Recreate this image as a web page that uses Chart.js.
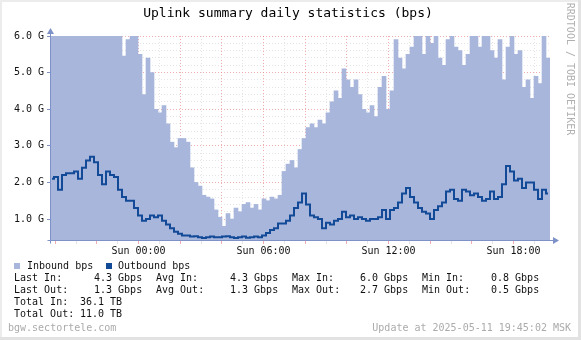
<!DOCTYPE html>
<html>
<head>
<meta charset="utf-8">
<script src="https://cdn.jsdelivr.net/npm/chart.js@4/dist/chart.umd.min.js"></script>
<style>
    html, body { margin: 0; padding: 0; background: #fff; }
    #wrap { width: 581px; height: 340px; }
</style>
</head>
<body>
<div id="wrap"><canvas id="chart" width="581" height="340"></canvas></div>
<script>
// ================== Data ==================
// one sample every 0.192 h, starting Sat 19:45 (hours relative to Sun 00:00)
const startHour = -4.25;
const endHour = 19.75;

// Inbound bps, in G
const inbound = [
    6.0, 6.0, 6.0, 6.0, 6.0, 6.0, 6.0, 6.0, 6.0, 6.0,
    6.0, 6.0, 6.0, 6.0, 6.0, 6.0, 6.0, 6.0, 5.45, 5.9,
    6.0, 6.0, 5.5, 4.4, 5.4, 5.0, 4.0, 3.9, 4.1, 3.6,
    3.1, 2.95, 3.2, 3.2, 3.1, 2.4, 2.0, 1.9, 1.65, 1.6,
    1.55, 1.25, 1.05, 0.8, 1.15, 1.0, 1.3, 1.2, 1.4, 1.45,
    1.3, 1.4, 1.25, 1.55, 1.5, 1.6, 1.55, 1.65, 2.3, 2.5,
    2.6, 2.4, 2.9, 3.2, 3.5, 3.6, 3.5, 3.7, 3.6, 3.9,
    4.2, 4.5, 4.3, 5.1, 4.8, 4.6, 4.8, 4.4, 4.0, 3.9,
    4.1, 3.8, 4.6, 4.9, 4.0, 4.5, 5.9, 5.4, 5.1, 5.5,
    5.7, 6.0, 6.0, 5.5, 6.0, 5.8, 6.0, 5.4, 5.2, 5.9,
    6.0, 5.7, 5.6, 5.2, 5.5, 6.0, 6.0, 5.7, 6.0, 6.0,
    5.6, 5.4, 5.9, 4.8, 5.7, 6.0, 5.5, 5.6, 4.6, 4.8,
    4.3, 4.9, 4.7, 6.0, 5.4
];

// Outbound bps, in G
const outbound = [
    2.1, 2.15, 1.8, 2.2, 2.25, 2.25, 2.3, 2.1, 2.4, 2.6,
    2.7, 2.55, 2.2, 1.95, 2.3, 2.2, 2.15, 1.8, 1.6, 1.5,
    1.5, 1.3, 1.1, 0.95, 1.0, 1.1, 1.05, 1.1, 0.95, 0.85,
    0.75, 0.65, 0.6, 0.55, 0.55, 0.52, 0.53, 0.5, 0.48, 0.5,
    0.52, 0.5, 0.5, 0.52, 0.53, 0.5, 0.48, 0.5, 0.52, 0.49,
    0.5, 0.52, 0.5, 0.55, 0.62, 0.7, 0.75, 0.88, 0.88, 0.95,
    1.1, 1.3, 1.45, 1.7, 1.4, 1.1, 1.05, 1.0, 0.75, 0.9,
    0.85, 0.95, 1.0, 1.2, 1.05, 1.1, 1.0, 1.05, 1.0, 0.95,
    1.0, 1.0, 1.05, 1.25, 1.0, 1.25, 1.3, 1.45, 1.7, 1.85,
    1.6, 1.45, 1.3, 1.2, 1.15, 1.0, 1.25, 1.35, 1.45, 1.75,
    1.8, 1.55, 1.5, 1.8, 1.75, 1.65, 1.7, 1.6, 1.5, 1.55,
    1.75, 1.55, 1.6, 1.95, 2.45, 2.3, 2.05, 2.1, 1.85, 2.0,
    2.0, 1.8, 1.55, 1.8, 1.7
];

// Axis ticks
const yMin = 0.4;
const yMax = 6.0;
const yLabelValues = [1, 2, 3, 4, 5, 6];
const yLabels = ["1.0 G", "2.0 G", "3.0 G", "4.0 G", "5.0 G", "6.0 G"];
const xLabelHours = [0, 6, 12, 18];
const xLabels = ["Sun 00:00", "Sun 06:00", "Sun 12:00", "Sun 18:00"];

// Legend / statistics text
const seriesNames = ["Inbound bps", "Outbound bps"];
const statNamesIn = ["Last In:", "Avg In:", "Max In:", "Min In:"];
const statNamesOut = ["Last Out:", "Avg Out:", "Max Out:", "Min Out:"];
const statIn = [4.3, 4.3, 6.0, 0.8];
const statOut = [1.3, 1.3, 2.7, 0.5];
const totalNames = ["Total In:", "Total Out:"];
const totalValues = [36.1, 11.0];
const titleText = "Uplink summary daily statistics (bps)";
const hostText = "bgw.sectortele.com";
const updateText = "Update at 2025-05-11 19:45:02 MSK";
const watermark = "RRDTOOL / TOBI OETIKER";

// ================== Styling ==================
const MONO = '"DejaVu Sans Mono", "Liberation Mono", monospace';
const inColor = "#a8b6dc";
const outColor = "#134a97";
const axisColor = "#7f92c8";
const minorGrid = "rgba(228, 228, 228, 0.95)";
const majorGrid = "rgba(232, 120, 120, 0.6)";

const stepHours = (endHour - startHour) / inbound.length;
const toPoints = (arr) => arr.map((v, i) => ({ x: startHour + (i + 0.5) * stepHours, y: v }));

function isMajorHour(h) {
    return ((h % 2) + 2) % 2 === 0;
}
function isMajorG(v) {
    return Math.abs(v - Math.round(v)) < 1e-6;
}

// Frame, axes with arrows, title and the text block under the graph
const rrdPlugin = {
    id: "rrdDecor",
    beforeDraw(chart) {
        const ctx = chart.ctx;
        const w = chart.width, h = chart.height;
        ctx.save();
        ctx.fillStyle = "#ffffff";
        ctx.fillRect(0, 0, w, h);
        ctx.fillStyle = "#ececec";
        ctx.fillRect(0, 0, w, 2);
        ctx.fillRect(0, 0, 2, h);
        ctx.fillStyle = "#e2e2e2";
        ctx.fillRect(0, h - 3, w, 3);
        ctx.fillRect(w - 3, 0, 3, h);
        ctx.restore();
    },
    afterDraw(chart) {
        const ctx = chart.ctx;
        const area = chart.chartArea;
        ctx.save();

        // axes + arrows
        const ax = Math.round(area.left) + 0.5;
        const ay = Math.round(area.bottom) - 0.5;
        ctx.strokeStyle = axisColor;
        ctx.fillStyle = axisColor;
        ctx.lineWidth = 1;
        ctx.beginPath();
        ctx.moveTo(ax, ay + 3);
        ctx.lineTo(ax, area.top - 4);
        ctx.moveTo(ax - 3, ay);
        ctx.lineTo(area.right + 4, ay);
        ctx.stroke();
        ctx.beginPath();
        ctx.moveTo(ax, area.top - 8);
        ctx.lineTo(ax - 3.5, area.top - 2);
        ctx.lineTo(ax + 3.5, area.top - 2);
        ctx.closePath();
        ctx.fill();
        ctx.beginPath();
        ctx.moveTo(area.right + 9, ay);
        ctx.lineTo(area.right + 3, ay - 3.5);
        ctx.lineTo(area.right + 3, ay + 3.5);
        ctx.closePath();
        ctx.fill();

        // title
        ctx.fillStyle = "#000";
        ctx.font = "13px " + MONO;
        ctx.textAlign = "center";
        ctx.textBaseline = "middle";
        ctx.fillText(titleText, 288, 14);

        // vertical watermark
        ctx.save();
        ctx.translate(570, 69);
        ctx.rotate(Math.PI / 2);
        ctx.fillStyle = "#b0b0b0";
        ctx.font = "10px " + MONO;
        ctx.fillText(watermark, 0, 0);
        ctx.restore();

        // legend
        ctx.textAlign = "left";
        ctx.font = "10px " + MONO;
        ctx.fillStyle = inColor;
        ctx.fillRect(14, 263, 6, 6);
        ctx.fillStyle = outColor;
        ctx.fillRect(106, 263, 6, 6);
        ctx.fillStyle = "#111";
        ctx.fillText(seriesNames[0], 27, 266);
        ctx.fillText(seriesNames[1], 118, 266);

        // statistics
        const nameX = [14, 156, 292, 422];
        const valX = [94, 230, 360, 491];
        [statNamesIn, statNamesOut].forEach((names, r) => {
            const vals = r === 0 ? statIn : statOut;
            const y = 278 + r * 12;
            names.forEach((n, c) => {
                ctx.fillText(n, nameX[c], y);
                ctx.fillText(vals[c].toFixed(1) + " Gbps", valX[c], y);
            });
        });
        totalNames.forEach((n, r) => {
            const y = 302 + r * 12;
            ctx.fillText(n, 14, y);
            ctx.fillText(totalValues[r].toFixed(1) + " TB", 80, y);
        });

        // footer
        ctx.fillStyle = "#ababab";
        ctx.fillText(hostText, 8, 328);
        ctx.textAlign = "right";
        ctx.fillText(updateText, 571, 328);
        ctx.restore();
    },
};

// ================== Chart ==================
const xGridHours = [];
for (let h = Math.ceil(startHour); h <= Math.floor(endHour); h++) xGridHours.push(h);
const yGridValues = [];
for (let k = Math.round(yMin * 5) + 1; k <= Math.round(yMax * 5); k++) yGridValues.push(k / 5);

new Chart(document.getElementById("chart"), {
    type: "bar",
    data: {
        datasets: [
            {
                type: "line",
                label: seriesNames[1],
                data: toPoints(outbound),
                borderColor: outColor,
                borderWidth: 2,
                pointRadius: 0,
                tension: 0,
                stepped: "middle",
                fill: false,
                order: 1,
            },
            {
                type: "bar",
                label: seriesNames[0],
                data: toPoints(inbound),
                backgroundColor: inColor,
                borderWidth: 0,
                barPercentage: 1.0,
                categoryPercentage: 1.0,
                order: 2,
            },
        ],
    },
    options: {
        responsive: false,
        animation: false,
        devicePixelRatio: 1,
        layout: { padding: { left: 0, right: 31, top: 36, bottom: 0 } },
        plugins: { legend: { display: false }, tooltip: { enabled: false }, title: { display: false } },
        scales: {
            x: {
                type: "linear",
                min: startHour,
                max: endHour,
                offset: false,
                z: 1,
                afterBuildTicks(scale) {
                    scale.ticks = xGridHours.map((v) => ({ value: v }));
                },
                afterFit(scale) {
                    scale.height = 99;
                },
                ticks: {
                    autoSkip: false,
                    maxRotation: 0,
                    padding: 1,
                    color: "#111",
                    font: { family: MONO, size: 10 },
                    callback(v) {
                        const i = xLabelHours.indexOf(v);
                        return i >= 0 ? xLabels[i] : "";
                    },
                },
                grid: {
                    offset: false,
                    color: (c) => (isMajorHour(c.tick.value) ? majorGrid : minorGrid),
                    tickColor: (c) => (isMajorHour(c.tick.value) ? majorGrid : minorGrid),
                    tickLength: 3,
                    tickBorderDash: [],
                },
                border: { display: false, dash: [1, 2] },
            },
            y: {
                type: "linear",
                min: yMin,
                max: yMax,
                z: 1,
                afterBuildTicks(scale) {
                    scale.ticks = yGridValues.map((v) => ({ value: v }));
                },
                afterFit(scale) {
                    scale.width = 50;
                },
                ticks: {
                    autoSkip: false,
                    padding: 3,
                    color: "#111",
                    font: { family: MONO, size: 10 },
                    callback(v) {
                        const i = yLabelValues.findIndex((t) => Math.abs(t - v) < 1e-6);
                        return i >= 0 ? yLabels[i] : "";
                    },
                },
                grid: {
                    color: (c) => (isMajorG(c.tick.value) ? majorGrid : minorGrid),
                    tickColor: (c) => (isMajorG(c.tick.value) ? axisColor : "transparent"),
                    tickLength: 3,
                    tickBorderDash: [],
                },
                border: { display: false, dash: [1, 2] },
            },
        },
    },
    plugins: [rrdPlugin],
});
</script>
</body>
</html>
